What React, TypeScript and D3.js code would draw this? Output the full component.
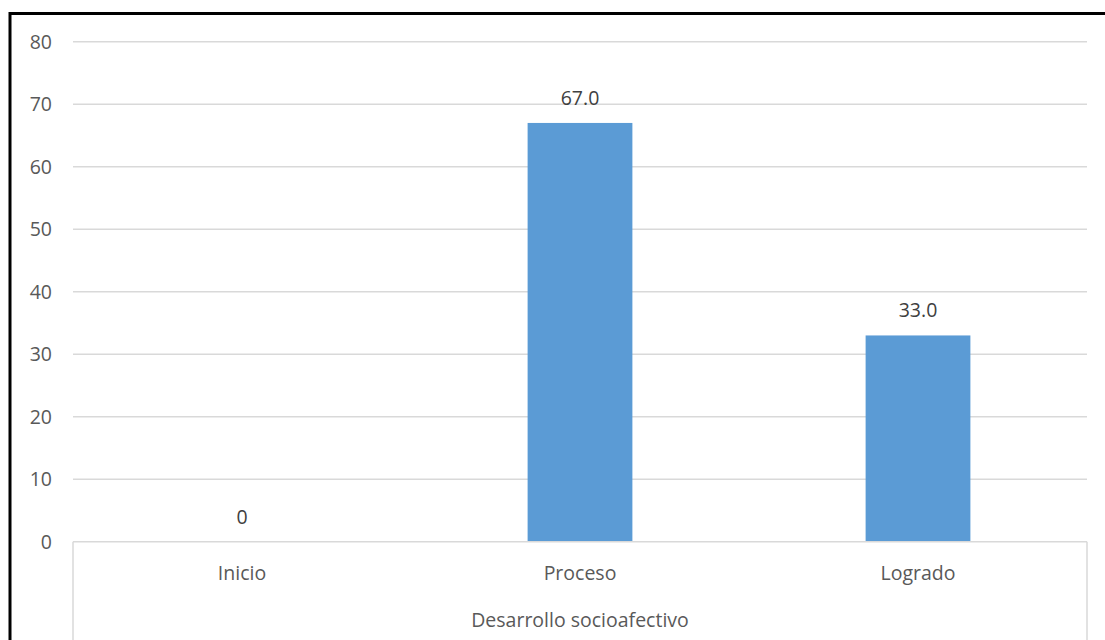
import React from "react";
import * as d3 from "d3";

const categories = ["Inicio", "Proceso", "Logrado"];
const values = [0, 67, 33];
const valueLabels = ["0", "67.0", "33.0"];
const yTicks = [0, 10, 20, 30, 40, 50, 60, 70, 80];
const axisTitle = "Desarrollo socioafectivo";

export default function App() {
  const W = 1105, H = 640;
  const left = 73, right = 1087, top = 41.7, bottom = 541.7;
  const x = d3.scaleBand<string>().domain(categories).range([left, right]).paddingInner(0.69).paddingOuter(0.345);
  const xc = d3.scaleBand<string>().domain(categories).range([left, right]);
  const y = d3.scaleLinear().domain([0, 80]).range([bottom, top]);
  const font = "'Open Sans', 'Noto Sans', sans-serif";
  const textColor = "#595959";
  const fs = 19.5;
  return (
    <svg width={W} height={H} style={{ position: "absolute", left: 0, top: 0, background: "#fff" }} fontFamily={font}>
      <rect x={0} y={0} width={W} height={H} fill="#fff" />
      {yTicks.map((t) => (
        <g key={t}>
          {t > 0 && <line x1={left} x2={right} y1={y(t)} y2={y(t)} stroke="#d9d9d9" strokeWidth={1.5} />}
          <text x={52} y={y(t)} dy="0.36em" textAnchor="end" fontSize={fs} fill={textColor}>{t}</text>
        </g>
      ))}
      {categories.map((c, i) => (
        <rect key={c} x={x(c)} y={y(values[i])} width={x.bandwidth()} height={y(0) - y(values[i])} fill="#5b9bd5" />
      ))}
      {categories.map((c, i) => (
        <text key={c} x={xc(c)! + xc.bandwidth() / 2} y={y(values[i]) - 18} textAnchor="middle" fontSize={fs} fill="#404040">{valueLabels[i]}</text>
      ))}
      <line x1={left} x2={right} y1={bottom} y2={bottom} stroke="#d9d9d9" strokeWidth={1.5} />
      <line x1={left} x2={left} y1={bottom} y2={H} stroke="#d9d9d9" strokeWidth={1.5} />
      <line x1={right} x2={right} y1={bottom} y2={H} stroke="#d9d9d9" strokeWidth={1.5} />
      {categories.map((c) => (
        <text key={c} x={xc(c)! + xc.bandwidth() / 2} y={580} textAnchor="middle" fontSize={fs} fill={textColor}>{c}</text>
      ))}
      <text x={(left + right) / 2} y={627} textAnchor="middle" fontSize={fs} fill={textColor}>{axisTitle}</text>
      <rect x={10} y={13.5} width={W + 20} height={H + 20} fill="none" stroke="#000" strokeWidth={3} />
    </svg>
  );
}
